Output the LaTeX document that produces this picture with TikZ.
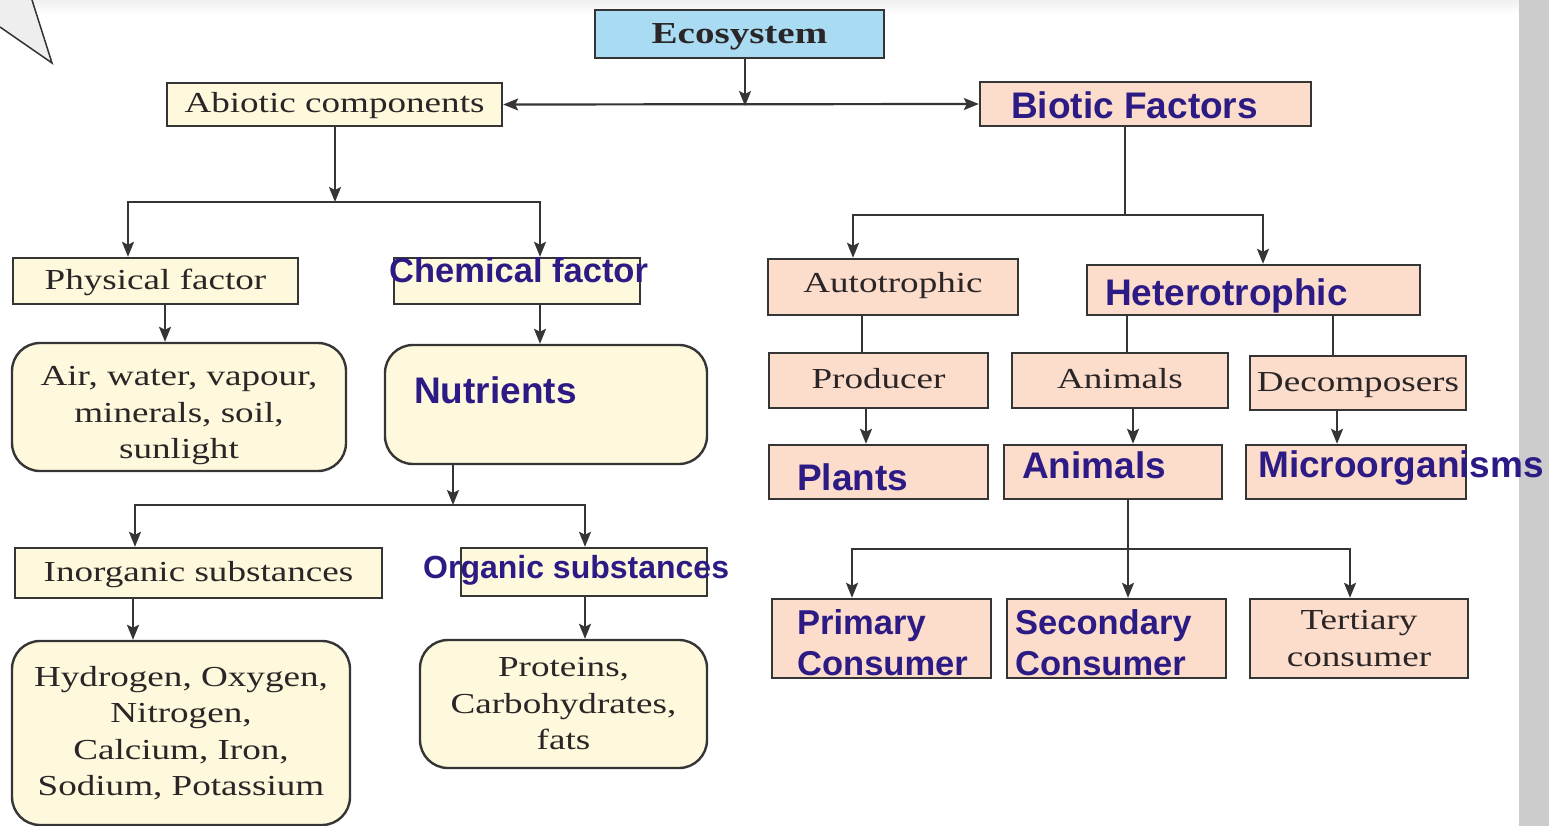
\documentclass[tikz,border=0pt]{standalone}
\usepackage{fontspec}
\setmainfont[FakeStretch=1.28]{Liberation Serif}
\newfontfamily\sansbleu{Liberation Sans}
\usepackage{tikz}
\usetikzlibrary{arrows.meta}
\usetikzlibrary{calc}
\definecolor{bleuciel}{HTML}{A9DCF2}
\definecolor{creme}{HTML}{FEF8DC}
\definecolor{peche}{HTML}{FCDCCB}
\definecolor{encre}{HTML}{2C1B85}
\definecolor{bord}{HTML}{353535}
\definecolor{texteg}{HTML}{2A2526}
\tikzstyle{boite}=[rectangle,draw=bord,line width=2.4pt,inner sep=0pt,
  text=texteg,align=center,font=\fontsize{29}{36.5}\selectfont]
\tikzstyle{une}=[text height=21pt,text depth=5pt]
\tikzstyle{ciel}=[boite,fill=bleuciel]
\tikzstyle{jaune}=[boite,fill=creme]
\tikzstyle{rose}=[boite,fill=peche]
\tikzstyle{arrondi}=[jaune,rounded corners=28pt]
\tikzstyle{bleu}=[text=encre,inner sep=0pt,anchor=base west,
  font=\sansbleu\bfseries\fontsize{37}{41}\selectfont]
\tikzstyle{suite}=[->,>={Stealth[length=15pt,width=12pt,inset=3pt]},line width=2.2pt,draw=bord]
\tikzstyle{trait}=[line width=2.2pt,draw=bord]

\begin{document}
\begin{tikzpicture}[x=1pt,y=-1pt]
\useasboundingbox (0,0) rectangle (1549,826);
% fond
\shade[top color=gray!12,bottom color=white] (0,0) rectangle (1519,14);
\fill[gray!40] (1519,0) rectangle (1549,826);
\fill[gray!13] (0,0) -- (32,0) -- (52,63) -- (0,27) -- cycle;
\draw[gray!40!black,line width=1.5pt] (0,27) -- (52,63) -- (32,0);
% boites
\node[ciel,minimum width=289pt,minimum height=48pt,text height=24pt,text depth=4pt] (eco) at (739.5,34) {\fontsize{30.5}{34}\selectfont\bfseries Ecosystem};
\node[jaune,une,minimum width=335pt,minimum height=43pt] (abio) at (334.5,104.5) {Abiotic components};
\node[rose,minimum width=331pt,minimum height=44pt] (bio) at (1145.5,104) {};
\node[jaune,une,minimum width=285pt,minimum height=46pt] (phys) at (155.5,281) {Physical factor};
\node[jaune,minimum width=246pt,minimum height=46pt] (chem) at (517,281) {};
\node[arrondi,minimum width=334pt,minimum height=128pt] (air) at (179,407) {\raisebox{0pt}[\dimexpr\height+16pt\relax]{\begin{tabular}{@{}c@{}}Air, water, vapour,\\minerals, soil,\\sunlight\end{tabular}}};
\node[arrondi,minimum width=322pt,minimum height=119pt] (nutr) at (546,404.5) {};
\node[jaune,une,minimum width=367pt,minimum height=50pt] (inorg) at (198.5,573) {Inorganic substances};
\node[jaune,minimum width=246pt,minimum height=48pt] (org) at (584,572) {};
\node[arrondi,minimum width=338pt,minimum height=184pt] (hyd) at (181,733) {Hydrogen, Oxygen,\\Nitrogen,\\Calcium, Iron,\\Sodium, Potassium};
\node[arrondi,minimum width=287pt,minimum height=128pt] (prot) at (563.5,704) {Proteins,\\Carbohydrates,\\fats};
\node[rose,minimum width=250pt,minimum height=56pt,text height=18pt,text depth=8pt] (auto) at (893,287) {Autotrophic};
\node[rose,minimum width=333pt,minimum height=50pt] (hetero) at (1253.5,290) {};
\node[rose,une,minimum width=219pt,minimum height=55pt] (prod) at (878.5,380.5) {Producer};
\node[rose,une,minimum width=216pt,minimum height=55pt] (anim) at (1120,380.5) {Animals};
\node[rose,une,minimum width=216pt,minimum height=54pt] (decomp) at (1358,383) {Decomposers};
\node[rose,minimum width=219pt,minimum height=54pt] (plants) at (878.5,472) {};
\node[rose,minimum width=218pt,minimum height=54pt] (anim2) at (1113,472) {};
\node[rose,minimum width=220pt,minimum height=54pt] (micro) at (1356,472) {};
\node[rose,minimum width=219pt,minimum height=79pt] (prim) at (881.5,638.5) {};
\node[rose,minimum width=219pt,minimum height=79pt] (sec) at (1116.5,638.5) {};
\node[rose,minimum width=218pt,minimum height=79pt] (tert) at (1359,638.5) {Tertiary\\consumer};
% textes bleus
\node[bleu] (tbio) at (1011,119) {Biotic Factors};
\node[bleu,font=\sansbleu\bfseries\fontsize{34.5}{41}\selectfont] (tchem) at (389,283) {Chemical factor};
\node[bleu] (tnut) at (414,403) {Nutrients};
\node[bleu,font=\sansbleu\bfseries\fontsize{32}{41}\selectfont] (torg) at (423,578) {Organic substances};
\node[bleu] (thet) at (1105,305) {Heterotrophic};
\node[bleu] (tpla) at (797,490) {Plants};
\node[bleu] (tani) at (1022,478) {Animals};
\node[bleu] (tmic) at (1258,477) {Microorganisms};
\node[bleu,anchor=west,align=left,font=\sansbleu\bfseries\fontsize{34.5}{41}\selectfont] (tpri) at (797,643) {Primary\\Consumer};
\node[bleu,anchor=west,align=left,font=\sansbleu\bfseries\fontsize{34.5}{41}\selectfont] (tsec) at (1015,643) {Secondary\\Consumer};
% fleches
\coordinate (j1) at (745,106);
\coordinate (j2) at (335,202);
\coordinate (g1) at (128,202);
\coordinate (d1) at (540,202);
\coordinate (x1) at (165,0);
\coordinate (j3) at (453,505);
\coordinate (g2) at (135,505);
\coordinate (d2) at (585,505);
\coordinate (x2) at (133,0);
\coordinate (j5) at (1125,215);
\coordinate (g3) at (853,215);
\coordinate (d3) at (1263,215);
\coordinate (x3) at (862,0);
\coordinate (x4) at (1127,0);
\coordinate (x5) at (1333,0);
\coordinate (x6) at (866,0);
\coordinate (x7) at (1133,0);
\coordinate (x8) at (1337,0);
\coordinate (j6) at (1128,549);
\coordinate (g4) at (852,549);
\coordinate (d4) at (1350,549);
\draw[suite] (j1 |- eco.south) -- (j1);
\draw[suite,<->] (abio.east) -- (bio.west);
\draw[suite] (j2 |- abio.south) -- (j2);
\draw[suite] (j2) -- (g1) -- (g1 |- phys.north);
\draw[suite] (j2) -- (d1) -- (d1 |- chem.north);
\draw[suite] (x1 |- phys.south) -- (x1 |- air.north);
\draw[suite] (d1 |- chem.south) -- (d1 |- nutr.north);
\draw[suite] (j3 |- nutr.south) -- (j3);
\draw[suite] (j3) -- (g2) -- (g2 |- inorg.north);
\draw[suite] (j3) -- (d2) -- (d2 |- org.north);
\draw[suite] (x2 |- inorg.south) -- (x2 |- hyd.north);
\draw[suite] (d2 |- org.south) -- (d2 |- prot.north);
\draw[trait] (j5 |- bio.south) -- (j5);
\draw[suite] (j5) -- (g3) -- (g3 |- auto.north);
\draw[suite] (j5) -- (d3) -- (d3 |- hetero.north);
\draw[trait] (x3 |- auto.south) -- (x3 |- prod.north);
\draw[trait] (x4 |- hetero.south) -- (x4 |- anim.north);
\draw[trait] (x5 |- hetero.south) -- (x5 |- decomp.north);
\draw[suite] (x6 |- prod.south) -- (x6 |- plants.north);
\draw[suite] (x7 |- anim.south) -- (x7 |- anim2.north);
\draw[suite] (x8 |- decomp.south) -- (x8 |- micro.north);
\draw[suite] (j6 |- anim2.south) -- (j6 |- sec.north);
\draw[suite] (j6) -- (g4) -- (g4 |- prim.north);
\draw[suite] (j6) -- (d4) -- (d4 |- tert.north);
\end{tikzpicture}
\end{document}
